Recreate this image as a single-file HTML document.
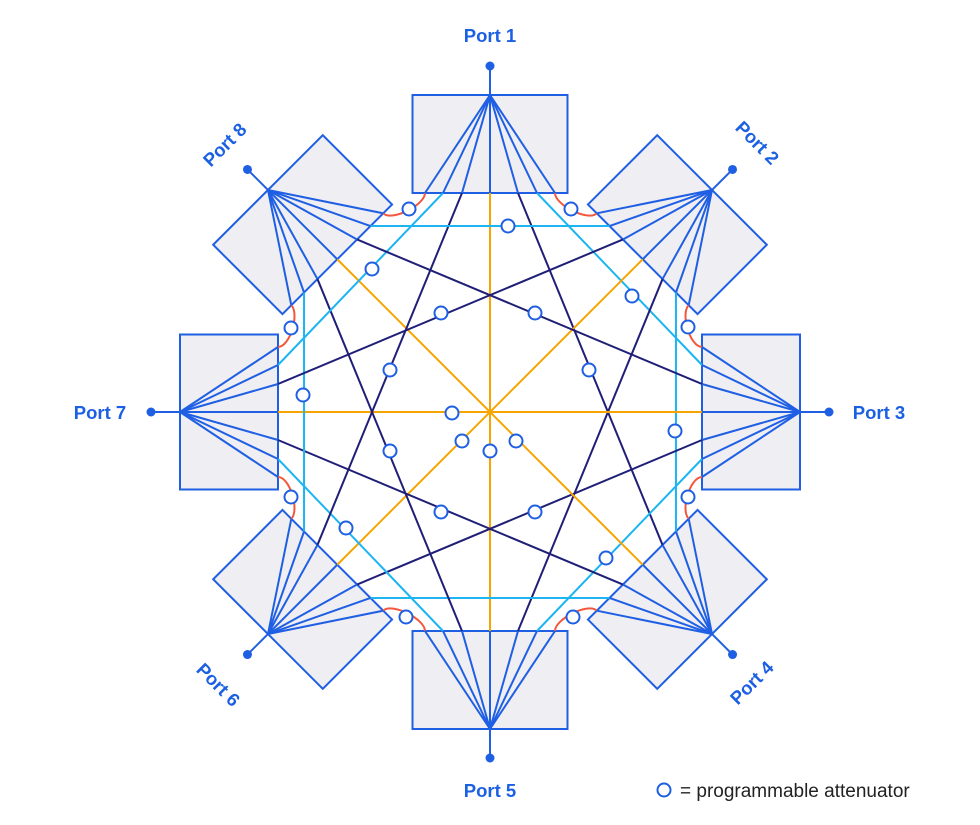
<!DOCTYPE html>
<html><head><meta charset="utf-8"><style>
html,body{margin:0;padding:0;background:#fff;width:980px;height:825px;overflow:hidden}
svg{display:block}
.lbl{font-family:"Liberation Sans",sans-serif;font-weight:bold;font-size:18.5px;fill:#1b5fe3}
</style></head><body>
<svg id="s" width="980" height="825" viewBox="0 0 980 825" xmlns="http://www.w3.org/2000/svg">
<g id="g"></g>
<text class="lbl" x="490" y="42" text-anchor="middle">Port 1</text>
<text class="lbl" x="879" y="419" text-anchor="middle">Port 3</text>
<text class="lbl" x="100" y="419" text-anchor="middle">Port 7</text>
<text class="lbl" x="490" y="797" text-anchor="middle">Port 5</text>
<text class="lbl" x="0" y="6" text-anchor="middle" transform="translate(757,143) rotate(45)">Port 2</text>
<text class="lbl" x="0" y="6" text-anchor="middle" transform="translate(225,145) rotate(-45)">Port 8</text>
<text class="lbl" x="0" y="6" text-anchor="middle" transform="translate(752,683) rotate(-45)">Port 4</text>
<text class="lbl" x="0" y="6" text-anchor="middle" transform="translate(218,685) rotate(45)">Port 6</text>
<circle cx="664" cy="790" r="6.5" fill="#fff" stroke="#1b5fe3" stroke-width="2"/>
<text x="680" y="797" font-family="Liberation Sans, sans-serif" font-size="19" fill="#222">= programmable attenuator</text>
</svg>
<script>
(function(){
var NS="http://www.w3.org/2000/svg",g=document.getElementById('g');
var C=[490,412],HW=77.5,DEP=98;
var RAk=[317,314,310,314,317,314,310,314],RDk=[346,343,339,343,346,343,339,343];
function el(n,a){var e=document.createElementNS(NS,n);for(var k in a)e.setAttribute(k,a[k]);g.appendChild(e);return e;}
function U(k){var t=k*Math.PI/4;return [Math.sin(t),-Math.cos(t)];}
function T(k){var t=k*Math.PI/4;return [Math.cos(t),Math.sin(t)];}
function P(k,r,s){var u=U(k),t=T(k);return [C[0]+r*u[0]+s*t[0],C[1]+r*u[1]+s*t[1]];}
function RA(k){return RAk[k];} function RI(k){return RAk[k]-DEP;}
var off={1:65,2:47,3:28,4:0};
function pt(k,d){var s=d>0?off[d]:-off[-d];return P(k,RI(k),s);}
var BLUE="#1f5fe3",RED="#f2583e",CY="#1cb5f2",NV="#1f1f78",OR="#f6a400";
for(var k=0;k<8;k++){
  var a=P(k,RA(k),-HW),b=P(k,RA(k),HW),c=P(k,RI(k),HW),d=P(k,RI(k),-HW);
  el('polygon',{points:[a,b,c,d].map(function(p){return p.join(',')}).join(' '),fill:'#eeeef3',stroke:BLUE,'stroke-width':2});
  var ap=P(k,RA(k),0),dot=P(k,RDk[k],0);
  el('line',{x1:ap[0],y1:ap[1],x2:dot[0],y2:dot[1],stroke:BLUE,'stroke-width':2});
  el('circle',{cx:dot[0],cy:dot[1],r:4.5,fill:BLUE});
}
for(var k=0;k<8;k++){
  for(var d=1;d<=4;d++){
    if(d==4&&k>=4)continue;
    var j=(k+d)%8,p1=pt(k,d),p2=pt(j,-d);
    if(d==1){
      var u1=U(k),u2=U(j),m=12;
      el('path',{d:'M'+p1+' C'+(p1[0]-m*u1[0])+','+(p1[1]-m*u1[1])+' '+(p2[0]-m*u2[0])+','+(p2[1]-m*u2[1])+' '+p2,fill:'none',stroke:RED,'stroke-width':2});
    } else {
      el('line',{x1:p1[0],y1:p1[1],x2:p2[0],y2:p2[1],stroke:d==2?CY:d==3?NV:OR,'stroke-width':2});
    }
  }
}
for(var k=0;k<8;k++){
  var ap=P(k,RA(k),0),kk=k;
  [-65,-47,-28,0,28,47,65].forEach(function(s){var q=P(kk,RI(kk),s);
    el('line',{x1:ap[0],y1:ap[1],x2:q[0],y2:q[1],stroke:BLUE,'stroke-width':2});});
}
[[409,209],[571,209],[688,327],[688,497],[573,617],[406,617],[291,497],[291,328],
 [508,226],[372,269],[632,296],[675,431],[606,558],[346,528],[303,395],
 [441,313],[535,313],[390,370],[589,370],[390,451],[441,512],[535,512],
 [452,413],[462,441],[490,451],[516,441]].forEach(function(p){
  el('circle',{cx:p[0],cy:p[1],r:6.5,fill:'#fff',stroke:BLUE,'stroke-width':2});});
})();
</script>
</body></html>
